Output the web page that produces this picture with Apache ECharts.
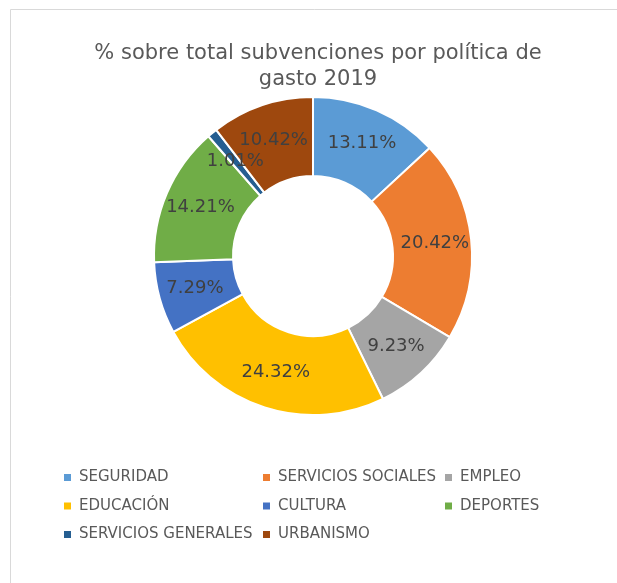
<!DOCTYPE html>
<html>
<head>
<meta charset="utf-8">
<script src="https://cdn.jsdelivr.net/npm/echarts@6/dist/echarts.min.js"></script>
<style>
  html, body { margin: 0; padding: 0; background: #fff; }
  #chart { width: 617px; height: 583px; }
</style>
</head>
<body>
<div id="chart"></div>
<script>
// datos del gráfico
const categories = ['SEGURIDAD', 'SERVICIOS SOCIALES', 'EMPLEO', 'EDUCACIÓN', 'CULTURA', 'DEPORTES', 'SERVICIOS GENERALES', 'URBANISMO'];
const percents = [13.11, 20.42, 9.23, 24.32, 7.29, 14.21, 1.01, 10.42];
const colors = ['#5B9BD5', '#ED7D31', '#A5A5A5', '#FFC000', '#4472C4', '#70AD47', '#255E91', '#9E480E'];

// columnas de la leyenda (como en Excel, 3 columnas)
const legendCols = [
  ['SEGURIDAD', 'EDUCACIÓN', 'SERVICIOS GENERALES'],
  ['SERVICIOS SOCIALES', 'CULTURA', 'URBANISMO'],
  ['EMPLEO', 'DEPORTES']
];
const legendLeft = [62, 261, 443];

const font = 'DejaVu Sans';
const myChart = echarts.init(document.getElementById('chart'));

const option = {
  color: colors,
  animation: false,
  title: {
    text: '% sobre total subvenciones por política de\ngasto 2019',
    left: 313,
    top: 36,
    textAlign: 'center',
    textStyle: { fontFamily: font, fontSize: 21, fontWeight: 'normal', color: '#595959', lineHeight: 26 }
  },
  graphic: [{
    type: 'rect',
    shape: { x: 10.5, y: 9.5, width: 700, height: 700 },
    style: { fill: 'none', stroke: '#d9d9d9', lineWidth: 1 },
    silent: true
  }],
  legend: legendCols.map((col, i) => ({
    data: col,
    orient: 'vertical',
    left: legendLeft[i],
    top: 470,
    padding: 0,
    icon: 'rect',
    itemWidth: 9,
    itemHeight: 9,
    itemGap: 13.5,
    selectedMode: false,
    textStyle: { fontFamily: font, fontSize: 15, color: '#595959', lineHeight: 15, padding: [0, 0, 0, 2] }
  })),
  series: [{
    type: 'pie',
    center: [313, 256],
    radius: [80, 159],
    startAngle: 90,
    clockwise: true,
    data: categories.map((name, i) => ({ name: name, value: percents[i] })),
    itemStyle: { borderColor: '#fff', borderWidth: 2 },
    label: {
      position: 'inside',
      formatter: p => p.value.toFixed(2) + '%',
      fontFamily: font,
      fontSize: 18,
      color: '#404040'
    },
    labelLine: { show: false },
    emphasis: { disabled: true }
  }]
};

option && myChart.setOption(option);
</script>
</body>
</html>
